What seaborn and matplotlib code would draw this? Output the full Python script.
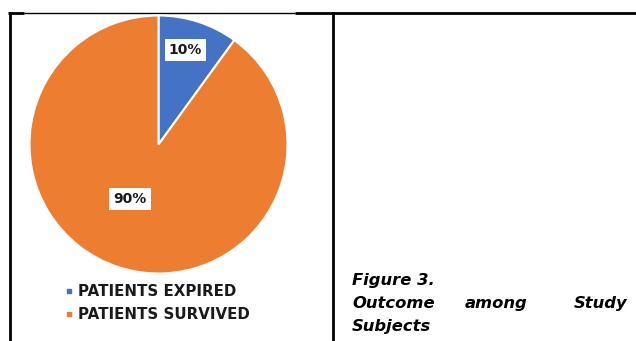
import matplotlib
matplotlib.use("Agg")
import matplotlib.pyplot as plt
import seaborn as sns
from matplotlib.lines import Line2D

categories = ["PATIENTS EXPIRED", "PATIENTS SURVIVED"]
values = [10, 90]
colors = ["#4472C4", "#ED7D31"]
caption_title = "Figure 3."
caption_words = ["Outcome", "among", "Study"]
caption_last = "Subjects"

sns.set_theme(style="white")
plt.rcParams['font.family'] = ['DejaVu Sans']

W, H = 636, 341
fig = plt.figure(figsize=(W / 100, H / 100), dpi=100)
fig.patch.set_facecolor("white")

def fx(x):
    return x / W

def fy(y):
    return 1 - y / H

# table borders
border = fig.add_axes([0, 0, 1, 1], zorder=0)
border.set_xlim(0, W)
border.set_ylim(H, 0)
border.axis("off")
border.plot([8, 24], [12.5, 12.5], color="black", lw=2, solid_capstyle="butt")
border.plot([24, 295], [12.5, 12.5], color="black", lw=1, solid_capstyle="butt")
border.plot([295, 636], [12.5, 12.5], color="black", lw=2, solid_capstyle="butt")
border.plot([10, 10], [12, 341], color="black", lw=2, solid_capstyle="butt")
border.plot([333, 333], [12, 341], color="black", lw=2, solid_capstyle="butt")

# pie
cx, cy, r = 158.5, 144.5, 129
ax = fig.add_axes([fx(cx - r), fy(cy + r), 2 * r / W, 2 * r / H], zorder=2)
wedges, texts, autotexts = ax.pie(
    values, colors=colors, startangle=90, counterclock=False,
    autopct=lambda p: f"{p:.0f}%", pctdistance=0.76,
    wedgeprops=dict(edgecolor="white", linewidth=1.5),
)
ax.set_xlim(-1, 1)
ax.set_ylim(-1, 1)
ax.set_aspect("equal")
for t in autotexts:
    t.set_fontsize(10)
    t.set_fontweight("bold")
    t.set_color("#1a1a1a")
    t.set_bbox(dict(facecolor="white", edgecolor="none", pad=3.0))
autotexts[0].set_position((0.21, 0.73))
autotexts[1].set_position((-0.22, -0.42))

# legend
handles = [Line2D([0], [0], marker="s", linestyle="none", markersize=3.5,
                  markerfacecolor=c, markeredgecolor=c) for c in colors]
fig.legend(handles, categories, loc="upper left",
           bbox_to_anchor=(fx(64), fy(284)), frameon=False,
           prop=dict(weight="bold", size=10.8), handlelength=0.6,
           handletextpad=0.35, labelspacing=0.55, borderpad=0,
           borderaxespad=0, labelcolor="#1a1a1a")

# caption
cap = dict(fontsize=11.8, fontweight="bold", fontstyle="italic", color="black")
fig.text(fx(352), fy(285), caption_title, ha="left", va="baseline", **cap)
fig.text(fx(352), fy(308), caption_words[0], ha="left", va="baseline", **cap)
fig.text(fx(496), fy(308), caption_words[1], ha="center", va="baseline", **cap)
fig.text(fx(627), fy(308), caption_words[2], ha="right", va="baseline", **cap)
fig.text(fx(352), fy(331), caption_last, ha="left", va="baseline", **cap)

fig.savefig("out.png", dpi=100, facecolor="white")
